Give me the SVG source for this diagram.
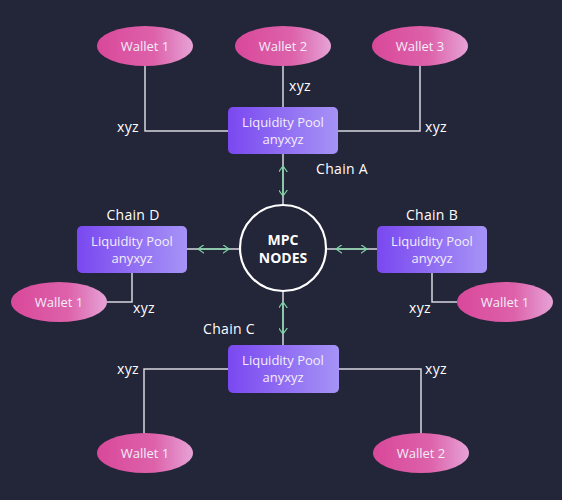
<svg xmlns="http://www.w3.org/2000/svg" width="562" height="500" viewBox="0 0 562 500">
<defs>
<linearGradient id="gw" x1="0" y1="0" x2="1" y2="0">
<stop offset="0" stop-color="#d9489a"/><stop offset="0.6" stop-color="#dd62aa"/><stop offset="1" stop-color="#e6a3d6"/>
</linearGradient>
<linearGradient id="gp" x1="0" y1="0" x2="1" y2="0">
<stop offset="0" stop-color="#7a48f0"/><stop offset="1" stop-color="#a693f6"/>
</linearGradient>
<marker id="ah" viewBox="0 0 8 10" refX="7" refY="5" markerWidth="7" markerHeight="9" markerUnits="userSpaceOnUse" orient="auto-start-reverse">
<path d="M0,0 L7,5 L0,10" fill="none" stroke="#7fd6a4" stroke-width="1.3"/>
</marker>
<style>
.w{fill:url(#gw)}
.p{fill:url(#gp)}
.t{font-family:"Open Sans","Liberation Sans",sans-serif;font-size:13px;fill:#f3eefa;text-anchor:middle}
.l{font-family:"Open Sans","Liberation Sans",sans-serif;font-size:13px;fill:#ffffff;text-anchor:middle}
.ch{font-size:14px;letter-spacing:0.3px}
.c{fill:none;stroke:#d8d8df;stroke-width:1.5}
.g{fill:none;stroke:#7fd6a4;stroke-width:1.3;marker-start:url(#ah);marker-end:url(#ah)}
</style>
</defs>
<rect width="562" height="500" fill="#232539"/>
<g id="connectors">
<polyline class="c" points="145,66 145,131 228,131"/>
<line class="c" x1="283" y1="66" x2="283" y2="107"/>
<polyline class="c" points="420,66 420,131 338,131"/>
<line class="c" x1="283" y1="154" x2="283" y2="205"/>
<line class="g" x1="283" y1="166" x2="283" y2="196"/>
<line class="c" x1="187" y1="249" x2="240" y2="249"/>
<line class="g" x1="198" y1="249" x2="229" y2="249"/>
<line class="c" x1="326" y1="249" x2="377" y2="249"/>
<line class="g" x1="336" y1="249" x2="367" y2="249"/>
<line class="c" x1="283" y1="291" x2="283" y2="345"/>
<line class="g" x1="283" y1="302" x2="283" y2="334"/>
<polyline class="c" points="132,273 132,302 107,302"/>
<polyline class="c" points="432,273 432,302 457,302"/>
<polyline class="c" points="228,369 144,369 144,433"/>
<polyline class="c" points="339,369 421,369 421,433"/>
<text class="l ch" x="128" y="132">xyz</text>
<text class="l ch" x="300" y="91">xyz</text>
<text class="l ch" x="436" y="132">xyz</text>
<text class="l ch" x="144" y="313">xyz</text>
<text class="l ch" x="420" y="313">xyz</text>
<text class="l ch" x="128" y="374">xyz</text>
<text class="l ch" x="436" y="374">xyz</text>
<text class="l ch" x="342" y="174">Chain A</text>
<text class="l ch" x="432" y="220">Chain B</text>
<text class="l ch" x="229" y="334">Chain C</text>
<text class="l ch" x="133" y="220">Chain D</text>
</g>
<g id="wallet-a1"><ellipse class="w" cx="145" cy="46" rx="48" ry="20"/><text class="t" x="145" y="51">Wallet 1</text></g>
<g id="wallet-a2"><ellipse class="w" cx="283" cy="46" rx="48" ry="20"/><text class="t" x="283" y="51">Wallet 2</text></g>
<g id="wallet-a3"><ellipse class="w" cx="420" cy="46" rx="48" ry="20"/><text class="t" x="420" y="51">Wallet 3</text></g>
<g id="pool-a"><rect class="p" x="228" y="107" width="110" height="47" rx="5"/><text class="t" x="283" y="127">Liquidity Pool</text><text class="t" x="283" y="144">anyxyz</text></g>
<g id="mpc"><circle cx="283" cy="248" r="43" fill="#232539" stroke="#ffffff" stroke-width="2.2"/><text class="l" x="283" y="245" style="font-weight:bold;font-size:14px">MPC</text><text class="l" x="283" y="263" style="font-weight:bold;font-size:14px">NODES</text></g>
<g id="pool-d"><rect class="p" x="77" y="226" width="110" height="47" rx="5"/><text class="t" x="132" y="246">Liquidity Pool</text><text class="t" x="132" y="263">anyxyz</text></g>
<g id="pool-b"><rect class="p" x="377" y="226" width="110" height="47" rx="5"/><text class="t" x="432" y="246">Liquidity Pool</text><text class="t" x="432" y="263">anyxyz</text></g>
<g id="wallet-d1"><ellipse class="w" cx="59" cy="302" rx="48" ry="20"/><text class="t" x="59" y="307">Wallet 1</text></g>
<g id="wallet-b1"><ellipse class="w" cx="505" cy="302" rx="48" ry="20"/><text class="t" x="505" y="307">Wallet 1</text></g>
<g id="pool-c"><rect class="p" x="228" y="345" width="111" height="48" rx="5"/><text class="t" x="283" y="365">Liquidity Pool</text><text class="t" x="283" y="382">anyxyz</text></g>
<g id="wallet-c1"><ellipse class="w" cx="145" cy="453" rx="48" ry="20"/><text class="t" x="145" y="458">Wallet 1</text></g>
<g id="wallet-c2"><ellipse class="w" cx="421" cy="453" rx="48" ry="20"/><text class="t" x="421" y="458">Wallet 2</text></g>
</svg>
